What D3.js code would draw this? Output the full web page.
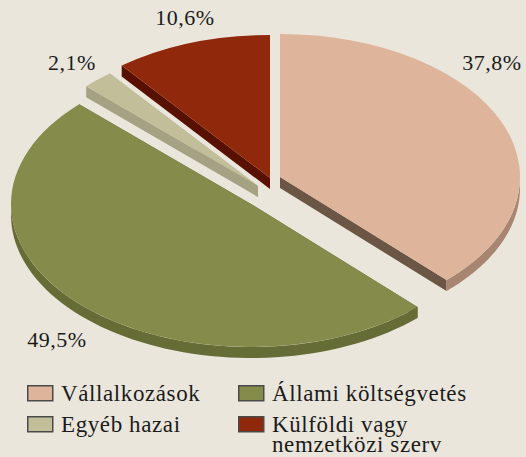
<!DOCTYPE html>
<html>
<head>
<meta charset="utf-8">
<script src="https://cdn.jsdelivr.net/npm/d3@7"></script>
<style>
  body { margin: 0; background: #eae6db; }
  svg { display: block; }
</style>
</head>
<body>
<svg width="526" height="457"></svg>
<script>
// data
var categories = ["Vállalkozások", "Állami költségvetés", "Egyéb hazai", "Külföldi vagy nemzetközi szerv"];
var values = [37.8, 49.5, 2.1, 10.6];
var valueLabels = ["37,8%", "49,5%", "2,1%", "10,6%"];

// styles
var topColors = ["#deb49a", "#858b4b", "#c2be9a", "#90290c"];
var rimColors = ["#a88570", "#666c35", "#a5a183", "#5a1000"];
var cutColors = ["#6b5646", "#5c6230", "#a5a183", "#581000"];
var explode = [[15, -9], [-14, 18], [-7, 0], [5, -8]];   // per-slice shift
var labelPos = [[492, 70], [57, 347], [72, 70], [185, 25]];
var FONT = "'Liberation Serif', 'Times New Roman', Times, serif";

var W = 526, H = 457;
var cx = 265, cy = 186;
var rx = 240, ry = 143, depth = 11;

var svg = d3.select("svg");
svg.append("rect").attr("width", W).attr("height", H).attr("fill", "#eae6db");

var pie = d3.pie().sort(null).value(function(d) { return d; });
var arcs = pie(values);

var arcGen = d3.arc().innerRadius(0).outerRadius(rx);
var line = d3.line();

function pt(c, a, dz) {
    return [c[0] + rx * Math.sin(a), c[1] - ry * Math.cos(a) + dz];
}

var sides = svg.append("g").attr("class", "sides");
var tops = svg.append("g").attr("class", "tops");

arcs.forEach(function(d, i) {
    var c = [cx + explode[i][0], cy + explode[i][1]];

    // radial cut faces
    [d.startAngle, d.endAngle].forEach(function(a) {
	var p = pt(c, a, 0), q = pt(c, a, depth);
	sides.append("path")
	    .attr("d", line([c, p, q, [c[0], c[1] + depth]]) + "Z")
	    .attr("fill", cutColors[i]);
    });

    // outer rim, only the front half is visible
    var a0 = Math.max(d.startAngle, Math.PI / 2);
    var a1 = Math.min(d.endAngle, Math.PI * 1.5);
    if (a1 > a0) {
	var n = 60, topPts = [], botPts = [];
	for (var k = 0; k <= n; k++) {
	    var a = a0 + (a1 - a0) * k / n;
	    topPts.push(pt(c, a, 0));
	    botPts.push(pt(c, a, depth));
	}
	sides.append("path")
	    .attr("d", line(topPts.concat(botPts.reverse())) + "Z")
	    .attr("fill", rimColors[i]);
    }

    // top face
    tops.append("path")
	.attr("d", arcGen(d))
	.attr("transform", "translate(" + c[0] + "," + c[1] + ") scale(1," + (ry / rx) + ")")
	.attr("fill", topColors[i]);
});

// value labels
svg.append("g").selectAll("text")
    .data(valueLabels)
    .enter().append("text")
    .attr("x", function(d, i) { return labelPos[i][0]; })
    .attr("y", function(d, i) { return labelPos[i][1]; })
    .attr("text-anchor", "middle")
    .attr("font-family", FONT)
    .attr("fill", "#1b1b1b")
    .attr("font-size", 22)
    .attr("letter-spacing", 0.5)
    .text(function(d) { return d; });

// legend, two columns
var legX = [27, 238], legY = [385, 416];
var legend = svg.append("g").attr("class", "legend");
categories.forEach(function(name, j) {
    var col = j % 2, row = Math.floor(j / 2);
    var g = legend.append("g").attr("transform", "translate(" + legX[col] + "," + legY[row] + ")");
    g.append("rect")
	.attr("x", 0.75).attr("y", 0.75)
	.attr("width", 25).attr("height", 15)
	.attr("fill", topColors[j])
	.attr("stroke", "#4a4a4a")
	.attr("stroke-width", 1.5);
    var words = name == "Külföldi vagy nemzetközi szerv"
	? ["Külföldi vagy", "nemzetközi szerv"] : [name];
    words.forEach(function(w, wi) {
	g.append("text")
	    .attr("x", 34)
	    .attr("y", 16 + wi * 20)
	    .attr("font-family", FONT)
	    .attr("fill", "#1b1b1b")
	    .attr("font-size", 23)
	    .attr("letter-spacing", 0.6)
	    .text(w);
    });
});
</script>
</body>
</html>
